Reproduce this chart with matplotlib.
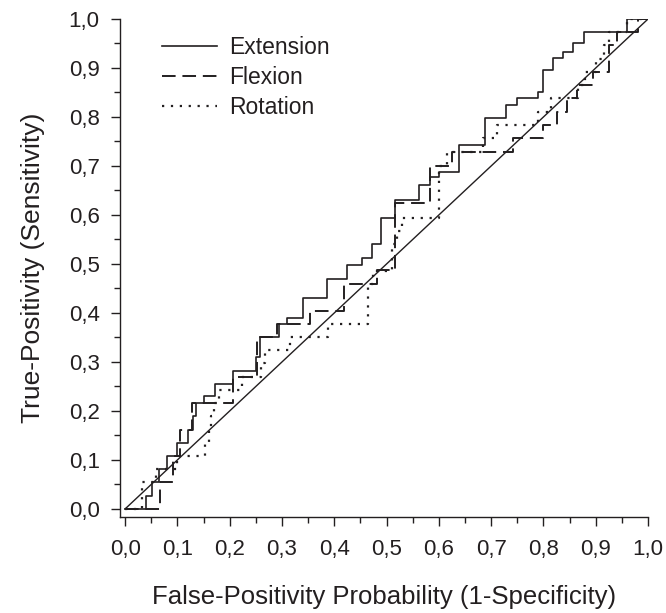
import matplotlib
matplotlib.use("Agg")
import matplotlib.pyplot as plt
from matplotlib.ticker import MultipleLocator, FuncFormatter

plt.rcParams["font.family"] = ["Liberation Sans", "DejaVu Sans"]

# Step curves (1-specificity, sensitivity) for each movement
ext_fpr = [0, 0.04, 0.04, 0.052, 0.052, 0.065, 0.065, 0.08, 0.08, 0.1, 0.1, 0.12, 0.12,
           0.13, 0.13, 0.135, 0.135, 0.15, 0.15, 0.172, 0.172, 0.206, 0.206, 0.25, 0.25,
           0.258, 0.258, 0.295, 0.295, 0.31, 0.31, 0.34, 0.34, 0.386, 0.386, 0.425, 0.425,
           0.453, 0.453, 0.472, 0.472, 0.49, 0.49, 0.516, 0.516, 0.562, 0.562, 0.583, 0.583,
           0.60, 0.60, 0.639, 0.639, 0.688, 0.688, 0.728, 0.728, 0.75, 0.75, 0.79, 0.79,
           0.80, 0.80, 0.818, 0.818, 0.837, 0.837, 0.857, 0.857, 0.878, 0.878, 0.96, 0.96, 1.0]
ext_tpr = [0, 0, 0.027, 0.027, 0.054, 0.054, 0.081, 0.081, 0.108, 0.108, 0.135, 0.135, 0.162,
           0.162, 0.189, 0.189, 0.216, 0.216, 0.23, 0.23, 0.255, 0.255, 0.282, 0.282, 0.31,
           0.31, 0.35, 0.35, 0.378, 0.378, 0.39, 0.39, 0.43, 0.43, 0.47, 0.47, 0.498,
           0.498, 0.512, 0.512, 0.54, 0.54, 0.594, 0.594, 0.63, 0.63, 0.662, 0.662, 0.677,
           0.677, 0.688, 0.688, 0.743, 0.743, 0.798, 0.798, 0.824, 0.824, 0.839, 0.839, 0.851,
           0.851, 0.896, 0.896, 0.92, 0.92, 0.933, 0.933, 0.951, 0.951, 0.973, 0.973, 1.0, 1.0]

flex_fpr = [0, 0.066, 0.066, 0.092, 0.092, 0.105, 0.105, 0.128, 0.128, 0.206, 0.206, 0.252,
            0.252, 0.29, 0.29, 0.354, 0.354, 0.419, 0.419, 0.482, 0.482, 0.516, 0.516, 0.583,
            0.583, 0.625, 0.625, 0.742, 0.742, 0.80, 0.80, 0.826, 0.826, 0.845, 0.845, 0.865,
            0.865, 0.895, 0.895, 0.925, 0.925, 0.94, 0.94, 0.98, 0.98, 1.0]
flex_tpr = [0, 0, 0.054, 0.054, 0.108, 0.108, 0.162, 0.162, 0.216, 0.216, 0.27, 0.27,
            0.35, 0.35, 0.378, 0.378, 0.404, 0.404, 0.459, 0.459, 0.488, 0.488, 0.624, 0.624,
            0.70, 0.70, 0.729, 0.729, 0.757, 0.757, 0.784, 0.784, 0.811, 0.811, 0.838, 0.838,
            0.865, 0.865, 0.892, 0.892, 0.946, 0.946, 0.973, 0.973, 1.0, 1.0]

rot_fpr = [0, 0.032, 0.032, 0.06, 0.06, 0.1, 0.1, 0.152, 0.152, 0.16, 0.16, 0.165, 0.165,
           0.17, 0.17, 0.18, 0.18, 0.224, 0.224, 0.26, 0.26, 0.268, 0.268, 0.315, 0.315,
           0.388, 0.388, 0.465, 0.465, 0.475, 0.475, 0.51, 0.51, 0.52, 0.52, 0.53, 0.53,
           0.6, 0.6, 0.615, 0.615, 0.685, 0.685, 0.711, 0.711, 0.79, 0.79, 0.815, 0.815,
           0.866, 0.866, 0.88, 0.88, 0.9, 0.9, 0.915, 0.915, 0.925, 0.925, 0.96, 0.96, 1.0]
rot_tpr = [0, 0, 0.054, 0.054, 0.081, 0.081, 0.108, 0.108, 0.135, 0.135, 0.162, 0.162, 0.189,
           0.189, 0.216, 0.216, 0.243, 0.243, 0.27, 0.27, 0.297, 0.297, 0.324, 0.324, 0.35,
           0.35, 0.378, 0.378, 0.459, 0.459, 0.486, 0.486, 0.54, 0.54, 0.567, 0.567, 0.594,
           0.594, 0.70, 0.70, 0.729, 0.729, 0.757, 0.757, 0.784, 0.784, 0.811, 0.811, 0.838,
           0.838, 0.865, 0.865, 0.892, 0.892, 0.919, 0.919, 0.946, 0.946, 0.973, 0.973, 1.0, 1.0]

labels = ["Extension", "Flexion", "Rotation"]

ink = "#231f20"

fig = plt.figure(figsize=(6.66, 6.13), dpi=100)
ax = fig.add_axes([0.180, 0.157, 0.793, 0.812])

ax.plot([0, 1], [0, 1], color=ink, lw=1.0)
ax.plot(ext_fpr, ext_tpr, color=ink, lw=1.2, label=labels[0])
ax.plot(flex_fpr, flex_tpr, color=ink, lw=1.4, ls=(0, (7, 3.5)), label=labels[1])
ax.plot(rot_fpr, rot_tpr, color=ink, lw=1.6, ls=(0, (1, 3.0)), label=labels[2])

ax.set_xlim(-0.01, 1.0)
ax.set_ylim(-0.016, 1.0)

for side in ("top", "right"):
    ax.spines[side].set_visible(False)
for side in ("left", "bottom"):
    ax.spines[side].set_linewidth(1.0)
    ax.spines[side].set_color(ink)

fmt = FuncFormatter(lambda v, pos: f"{v:.1f}".replace(".", ","))
ax.xaxis.set_major_locator(MultipleLocator(0.1))
ax.xaxis.set_minor_locator(MultipleLocator(0.05))
ax.yaxis.set_major_locator(MultipleLocator(0.1))
ax.yaxis.set_minor_locator(MultipleLocator(0.05))
ax.xaxis.set_major_formatter(fmt)
ax.yaxis.set_major_formatter(fmt)
ax.tick_params(which="major", length=6.5, width=1.0, color=ink, labelsize=16,
               labelcolor=ink, pad=8)
ax.tick_params(axis="x", which="major", pad=9.5)
ax.tick_params(which="minor", length=4, width=1.0, color=ink)

ax.set_xlabel("False-Positivity Probability (1-Specificity)", fontsize=18.5,
              color=ink, labelpad=18)
ax.set_ylabel("True-Positivity (Sensitivity)", fontsize=19, color=ink, labelpad=17)

ax.legend(loc="upper left", bbox_to_anchor=(0.048, 1.0), frameon=False, fontsize=16.5,
          handlelength=2.4, handletextpad=0.52, labelspacing=0.3, borderaxespad=0.35,
          labelcolor=ink)

fig.savefig("out.png", dpi=100)
